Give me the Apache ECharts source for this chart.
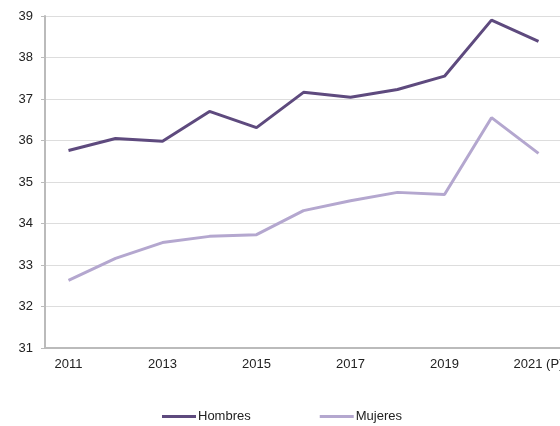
<!DOCTYPE html>
<html>
<head>
<meta charset="utf-8">
<script src="https://cdn.jsdelivr.net/npm/echarts@6/dist/echarts.min.js"></script>
<style>
  html, body { margin: 0; padding: 0; background: #fff; }
  #chart { width: 560px; height: 426px; }
</style>
</head>
<body>
<div id="chart"></div>
<script>
const years = ['2011', '2012', '2013', '2014', '2015', '2016', '2017', '2018', '2019', '2020', '2021 (P)']
const hombres = [35.76, 36.05, 35.98, 36.7, 36.31, 37.16, 37.04, 37.23, 37.55, 38.9, 38.39]
const mujeres = [32.63, 33.16, 33.54, 33.69, 33.73, 34.31, 34.55, 34.75, 34.7, 36.55, 35.69]

const chart = echarts.init(document.getElementById('chart'))

const font = 'Liberation Sans, Arial, sans-serif'

chart.setOption({
  animation: false,
  legend: {
    top: 405,
    left: 157,
    itemGap: 69,
    itemWidth: 34,
    itemHeight: 3,
    icon: 'rect',
    textStyle: { fontFamily: font, fontSize: 13, color: '#222', padding: [0, 0, 0, -3] },
    data: ['Hombres', 'Mujeres']
  },
  grid: {
    left: 45,
    top: 16,
    width: 517,
    height: 332,
    outerBoundsMode: 'none'
  },
  xAxis: {
    type: 'category',
    data: years,
    boundaryGap: true,
    axisLine: { lineStyle: { color: '#bbb', width: 2 } },
    axisTick: { interval: 0, length: 4, lineStyle: { color: '#bbb' } },
    axisLabel: { interval: 1, margin: 10, fontFamily: font, fontSize: 13, color: '#222', hideOverlap: false }
  },
  yAxis: {
    type: 'value',
    min: 31,
    max: 39,
    interval: 1,
    axisLine: { show: true, lineStyle: { color: '#bbb', width: 2 } },
    axisTick: { show: true, length: 4, lineStyle: { color: '#bbb' } },
    splitLine: { lineStyle: { color: '#ddd', width: 1 } },
    axisLabel: { margin: 12, fontFamily: font, fontSize: 13, color: '#222' }
  },
  series: [
    {
      name: 'Hombres',
      type: 'line',
      data: hombres,
      symbol: 'none',
      lineStyle: { width: 3, color: '#5e4a7e' },
      itemStyle: { color: '#5e4a7e' }
    },
    {
      name: 'Mujeres',
      type: 'line',
      data: mujeres,
      symbol: 'none',
      lineStyle: { width: 3, color: '#b4a7cf' },
      itemStyle: { color: '#b4a7cf' }
    }
  ]
})
</script>
</body>
</html>
